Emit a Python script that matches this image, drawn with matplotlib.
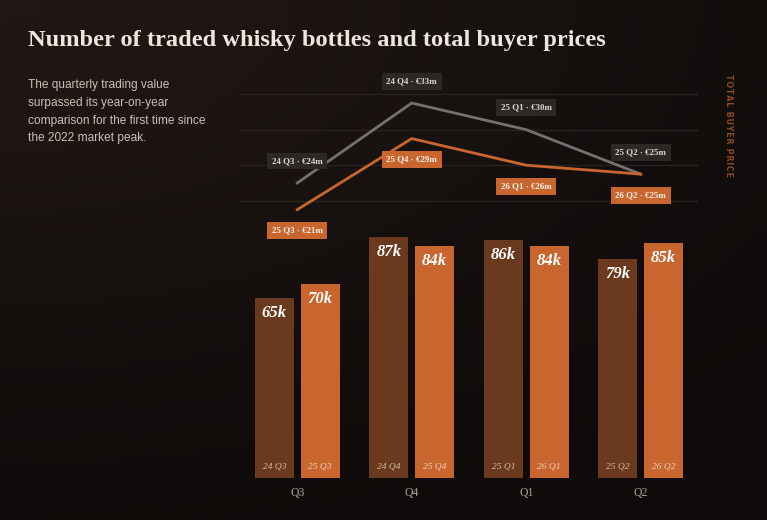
import numpy as np
import matplotlib
matplotlib.use("Agg")
import matplotlib.pyplot as plt

# data
quarters = ["Q3", "Q4", "Q1", "Q2"]
prev_labels = ["24 Q3", "24 Q4", "25 Q1", "25 Q2"]
curr_labels = ["25 Q3", "25 Q4", "26 Q1", "26 Q2"]
prev_bottles = [65, 87, 86, 79]      # thousand bottles
curr_bottles = [70, 84, 84, 85]
prev_price = [24, 33, 30, 25]        # EUR million
curr_price = [21, 29, 26, 25]

title = "Number of traded whisky bottles and total buyer prices"
intro = ["The quarterly trading value",
         "surpassed its year-on-year",
         "comparison for the first time since",
         "the 2022 market peak."]

BG = "#0e0b0a"
DARK = "#6b3a1e"
ORANGE = "#c9652f"
GREY = "#75716d"
SERIF = ["Liberation Serif", "DejaVu Serif"]
NARROW = ["Liberation Sans Narrow", "Liberation Sans", "DejaVu Sans"]

W, H = 767, 520
fig = plt.figure(figsize=(W / 100, H / 100), dpi=100, facecolor=BG)

# soft warm glow in the top-left corner
bg = fig.add_axes([0, 0, 1, 1], zorder=-10)
yy, xx = np.mgrid[0:1:260j, 0:1:384j]
glow = np.exp(-((xx / 0.9) ** 2 + (yy / 0.7) ** 2))
bg.imshow(glow, cmap=matplotlib.colors.LinearSegmentedColormap.from_list(
    "g", [BG, "#1f1714"]), aspect="auto", extent=[0, 1, 0, 1], origin="upper")
bg.set_axis_off()


def px_box(x0, y_top, x1, y_bot):
    return [x0 / W, 1 - y_bot / H, (x1 - x0) / W, (y_bot - y_top) / H]


# bars
ax = fig.add_axes(px_box(240, 478.3 - 277, 698, 478.3))
ax.set_facecolor("none")
x = np.arange(len(quarters))
bw, off = 0.34, 0.2
ax.bar(x - off, prev_bottles, bw, color=DARK)
ax.bar(x + off, curr_bottles, bw, color=ORANGE)
for xi, v, lab in zip(x - off, prev_bottles, prev_labels):
    ax.annotate(f"{v}k", (xi, v), xytext=(0, -10.8), textcoords="offset points",
                ha="center", va="center", color="white", fontsize=12,
                fontweight="bold", fontstyle="italic", family=SERIF)
    ax.annotate(lab, (xi, 0), xytext=(0, 8.6), textcoords="offset points",
                ha="center", va="center", color="#e6d2c2", alpha=0.85,
                fontsize=6.8, fontstyle="italic", family=SERIF)
for xi, v, lab in zip(x + off, curr_bottles, curr_labels):
    ax.annotate(f"{v}k", (xi, v), xytext=(0, -10.8), textcoords="offset points",
                ha="center", va="center", color="white", fontsize=12,
                fontweight="bold", fontstyle="italic", family=SERIF)
    ax.annotate(lab, (xi, 0), xytext=(0, 8.6), textcoords="offset points",
                ha="center", va="center", color="#fae6d6", alpha=0.85,
                fontsize=6.8, fontstyle="italic", family=SERIF)
ax.set_xlim(-0.5, 3.5)
ax.set_ylim(0, 100)
ax.set_xticks(x, quarters, family=SERIF, fontsize=8.5, color="#aaa199")
ax.tick_params(axis="x", length=0, pad=6)
ax.set_yticks([])
for s in ax.spines.values():
    s.set_visible(False)

# price lines
lx = fig.add_axes(px_box(240, 58.6, 698, 245.2), zorder=5)
lx.set_facecolor("none")
lx.set_xlim(-0.5, 3.5)
lx.set_ylim(17, 38)
for g in [22, 26, 30, 34]:
    lx.axhline(g, color="#28221f", lw=1, zorder=0)
lx.plot(x, prev_price, color=GREY, lw=2, zorder=2)
lx.plot(x, curr_price, color=ORANGE, lw=2, zorder=3)
for xi, v, lab in zip(x, prev_price, prev_labels):
    lx.annotate(f"{lab} · €{v}m", (xi, v), xytext=(0, 15.8),
                textcoords="offset points", ha="center", va="center",
                fontsize=6.4, fontweight="bold", color="#dcd6d0", family=SERIF,
                bbox=dict(boxstyle="square,pad=0.5", fc="#2b2826", ec="none"),
                zorder=6)
for xi, v, lab in zip(x, curr_price, curr_labels):
    lx.annotate(f"{lab} · €{v}m", (xi, v), xytext=(0, -15.1),
                textcoords="offset points", ha="center", va="center",
                fontsize=6.4, fontweight="bold", color="#faf0e8", family=SERIF,
                bbox=dict(boxstyle="square,pad=0.5", fc=ORANGE, ec="none"),
                zorder=6)
lx.set_axis_off()

# texts
fig.text(28 / W, 1 - 46 / H, title, ha="left", va="baseline",
         fontsize=17.6, fontweight="bold", color="#ece6df", family=SERIF)
for i, line in enumerate(intro):
    fig.text(28 / W, 1 - (88 + i * 17.8) / H, line, ha="left", va="baseline",
             fontsize=8.6, color="#c9c0b6", family=NARROW)
fig.text(728 / W, 1 - 125 / H, "\u200a".join("TOTAL BUYER PRICE"),
         rotation=270, ha="center", va="center", fontsize=5.8,
         fontweight="bold", color="#8a4a1c", family=["DejaVu Sans"])

fig.savefig("out.png", dpi=100, facecolor=BG)
